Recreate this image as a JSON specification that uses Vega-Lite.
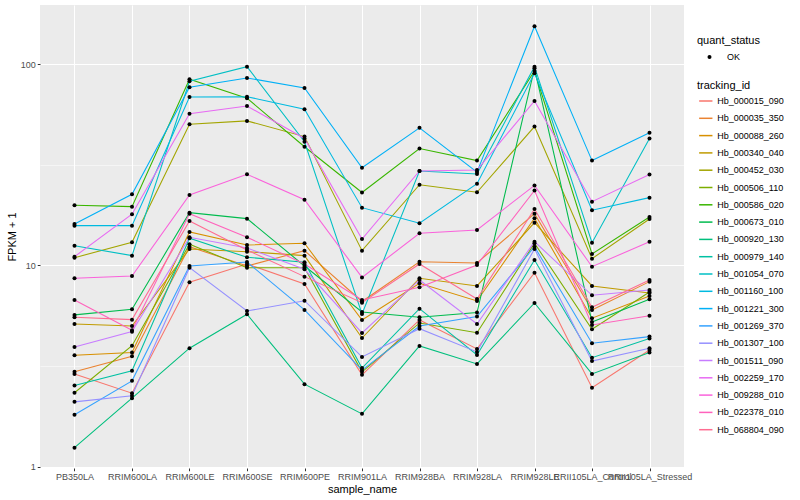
{
"$schema": "https://vega.github.io/schema/vega-lite/v6.json",
"width": 644,
"height": 463,
"autosize": {"type": "none"},
"padding": {"left": 40, "top": 5, "right": 116, "bottom": 32},
"background": "white",
"config": {
  "font": "Liberation Sans",
  "view": {"fill": "#EBEBEB", "stroke": null},
  "axis": {"domain": false, "gridColor": "white", "tickColor": "#333333", "tickSize": 2.75, "tickWidth": 1, "labelColor": "#4D4D4D", "labelFontSize": 9, "titleFontSize": 11, "titleFontWeight": "normal", "titleColor": "black"},
  "legend": {"labelFontSize": 9, "labelColor": "black", "titleFontSize": 11, "titleFontWeight": "normal", "titleColor": "black", "padding": 0}
},
"data": {"values": [
{"sample_name":"PB350LA","tracking_id":"Hb_000015_090","quant_status":"OK","fpkm":2.89},
{"sample_name":"RRIM600LA","tracking_id":"Hb_000015_090","quant_status":"OK","fpkm":2.32},
{"sample_name":"RRIM600LE","tracking_id":"Hb_000015_090","quant_status":"OK","fpkm":8.25},
{"sample_name":"RRIM600SE","tracking_id":"Hb_000015_090","quant_status":"OK","fpkm":10.17},
{"sample_name":"RRIM600PE","tracking_id":"Hb_000015_090","quant_status":"OK","fpkm":8.09},
{"sample_name":"RRIM901LA","tracking_id":"Hb_000015_090","quant_status":"OK","fpkm":2.86},
{"sample_name":"RRIM928BA","tracking_id":"Hb_000015_090","quant_status":"OK","fpkm":5.36},
{"sample_name":"RRIM928LA","tracking_id":"Hb_000015_090","quant_status":"OK","fpkm":3.85},
{"sample_name":"RRIM928LE","tracking_id":"Hb_000015_090","quant_status":"OK","fpkm":9.21},
{"sample_name":"RRII105LA_Control","tracking_id":"Hb_000015_090","quant_status":"OK","fpkm":2.47},
{"sample_name":"RRII105LA_Stressed","tracking_id":"Hb_000015_090","quant_status":"OK","fpkm":3.80},
{"sample_name":"PB350LA","tracking_id":"Hb_000035_350","quant_status":"OK","fpkm":2.96},
{"sample_name":"RRIM600LA","tracking_id":"Hb_000035_350","quant_status":"OK","fpkm":3.54},
{"sample_name":"RRIM600LE","tracking_id":"Hb_000035_350","quant_status":"OK","fpkm":12.40},
{"sample_name":"RRIM600SE","tracking_id":"Hb_000035_350","quant_status":"OK","fpkm":9.94},
{"sample_name":"RRIM600PE","tracking_id":"Hb_000035_350","quant_status":"OK","fpkm":11.85},
{"sample_name":"RRIM901LA","tracking_id":"Hb_000035_350","quant_status":"OK","fpkm":6.62},
{"sample_name":"RRIM928BA","tracking_id":"Hb_000035_350","quant_status":"OK","fpkm":10.44},
{"sample_name":"RRIM928LA","tracking_id":"Hb_000035_350","quant_status":"OK","fpkm":10.29},
{"sample_name":"RRIM928LE","tracking_id":"Hb_000035_350","quant_status":"OK","fpkm":18.09},
{"sample_name":"RRII105LA_Control","tracking_id":"Hb_000035_350","quant_status":"OK","fpkm":6.01},
{"sample_name":"RRII105LA_Stressed","tracking_id":"Hb_000035_350","quant_status":"OK","fpkm":8.31},
{"sample_name":"PB350LA","tracking_id":"Hb_000088_260","quant_status":"OK","fpkm":3.58},
{"sample_name":"RRIM600LA","tracking_id":"Hb_000088_260","quant_status":"OK","fpkm":3.69},
{"sample_name":"RRIM600LE","tracking_id":"Hb_000088_260","quant_status":"OK","fpkm":14.67},
{"sample_name":"RRIM600SE","tracking_id":"Hb_000088_260","quant_status":"OK","fpkm":12.65},
{"sample_name":"RRIM600PE","tracking_id":"Hb_000088_260","quant_status":"OK","fpkm":12.89},
{"sample_name":"RRIM901LA","tracking_id":"Hb_000088_260","quant_status":"OK","fpkm":5.36},
{"sample_name":"RRIM928BA","tracking_id":"Hb_000088_260","quant_status":"OK","fpkm":8.16},
{"sample_name":"RRIM928LA","tracking_id":"Hb_000088_260","quant_status":"OK","fpkm":6.66},
{"sample_name":"RRIM928LE","tracking_id":"Hb_000088_260","quant_status":"OK","fpkm":17.16},
{"sample_name":"RRII105LA_Control","tracking_id":"Hb_000088_260","quant_status":"OK","fpkm":5.47},
{"sample_name":"RRII105LA_Stressed","tracking_id":"Hb_000088_260","quant_status":"OK","fpkm":7.05},
{"sample_name":"PB350LA","tracking_id":"Hb_000340_040","quant_status":"OK","fpkm":5.12},
{"sample_name":"RRIM600LA","tracking_id":"Hb_000340_040","quant_status":"OK","fpkm":5.00},
{"sample_name":"RRIM600LE","tracking_id":"Hb_000340_040","quant_status":"OK","fpkm":12.08},
{"sample_name":"RRIM600SE","tracking_id":"Hb_000340_040","quant_status":"OK","fpkm":11.71},
{"sample_name":"RRIM600PE","tracking_id":"Hb_000340_040","quant_status":"OK","fpkm":11.19},
{"sample_name":"RRIM901LA","tracking_id":"Hb_000340_040","quant_status":"OK","fpkm":4.36},
{"sample_name":"RRIM928BA","tracking_id":"Hb_000340_040","quant_status":"OK","fpkm":8.64},
{"sample_name":"RRIM928LA","tracking_id":"Hb_000340_040","quant_status":"OK","fpkm":7.91},
{"sample_name":"RRIM928LE","tracking_id":"Hb_000340_040","quant_status":"OK","fpkm":16.32},
{"sample_name":"RRII105LA_Control","tracking_id":"Hb_000340_040","quant_status":"OK","fpkm":7.91},
{"sample_name":"RRII105LA_Stressed","tracking_id":"Hb_000340_040","quant_status":"OK","fpkm":7.30},
{"sample_name":"PB350LA","tracking_id":"Hb_000452_030","quant_status":"OK","fpkm":10.93},
{"sample_name":"RRIM600LA","tracking_id":"Hb_000452_030","quant_status":"OK","fpkm":13.04},
{"sample_name":"RRIM600LE","tracking_id":"Hb_000452_030","quant_status":"OK","fpkm":50.3},
{"sample_name":"RRIM600SE","tracking_id":"Hb_000452_030","quant_status":"OK","fpkm":52.3},
{"sample_name":"RRIM600PE","tracking_id":"Hb_000452_030","quant_status":"OK","fpkm":43.7},
{"sample_name":"RRIM901LA","tracking_id":"Hb_000452_030","quant_status":"OK","fpkm":11.85},
{"sample_name":"RRIM928BA","tracking_id":"Hb_000452_030","quant_status":"OK","fpkm":25.2},
{"sample_name":"RRIM928LA","tracking_id":"Hb_000452_030","quant_status":"OK","fpkm":23.1},
{"sample_name":"RRIM928LE","tracking_id":"Hb_000452_030","quant_status":"OK","fpkm":49.0},
{"sample_name":"RRII105LA_Control","tracking_id":"Hb_000452_030","quant_status":"OK","fpkm":10.81},
{"sample_name":"RRII105LA_Stressed","tracking_id":"Hb_000452_030","quant_status":"OK","fpkm":17.02},
{"sample_name":"PB350LA","tracking_id":"Hb_000506_110","quant_status":"OK","fpkm":2.33},
{"sample_name":"RRIM600LA","tracking_id":"Hb_000506_110","quant_status":"OK","fpkm":3.99},
{"sample_name":"RRIM600LE","tracking_id":"Hb_000506_110","quant_status":"OK","fpkm":12.75},
{"sample_name":"RRIM600SE","tracking_id":"Hb_000506_110","quant_status":"OK","fpkm":9.75},
{"sample_name":"RRIM600PE","tracking_id":"Hb_000506_110","quant_status":"OK","fpkm":9.75},
{"sample_name":"RRIM901LA","tracking_id":"Hb_000506_110","quant_status":"OK","fpkm":2.96},
{"sample_name":"RRIM928BA","tracking_id":"Hb_000506_110","quant_status":"OK","fpkm":5.18},
{"sample_name":"RRIM928LA","tracking_id":"Hb_000506_110","quant_status":"OK","fpkm":4.63},
{"sample_name":"RRIM928LE","tracking_id":"Hb_000506_110","quant_status":"OK","fpkm":12.89},
{"sample_name":"RRII105LA_Control","tracking_id":"Hb_000506_110","quant_status":"OK","fpkm":4.82},
{"sample_name":"RRII105LA_Stressed","tracking_id":"Hb_000506_110","quant_status":"OK","fpkm":7.38},
{"sample_name":"PB350LA","tracking_id":"Hb_000586_020","quant_status":"OK","fpkm":19.92},
{"sample_name":"RRIM600LA","tracking_id":"Hb_000586_020","quant_status":"OK","fpkm":19.60},
{"sample_name":"RRIM600LE","tracking_id":"Hb_000586_020","quant_status":"OK","fpkm":84.2},
{"sample_name":"RRIM600SE","tracking_id":"Hb_000586_020","quant_status":"OK","fpkm":67.8},
{"sample_name":"RRIM600PE","tracking_id":"Hb_000586_020","quant_status":"OK","fpkm":38.9},
{"sample_name":"RRIM901LA","tracking_id":"Hb_000586_020","quant_status":"OK","fpkm":23.06},
{"sample_name":"RRIM928BA","tracking_id":"Hb_000586_020","quant_status":"OK","fpkm":38.1},
{"sample_name":"RRIM928LA","tracking_id":"Hb_000586_020","quant_status":"OK","fpkm":33.2},
{"sample_name":"RRIM928LE","tracking_id":"Hb_000586_020","quant_status":"OK","fpkm":92.6},
{"sample_name":"RRII105LA_Control","tracking_id":"Hb_000586_020","quant_status":"OK","fpkm":11.41},
{"sample_name":"RRII105LA_Stressed","tracking_id":"Hb_000586_020","quant_status":"OK","fpkm":17.42},
{"sample_name":"PB350LA","tracking_id":"Hb_000673_010","quant_status":"OK","fpkm":5.68},
{"sample_name":"RRIM600LA","tracking_id":"Hb_000673_010","quant_status":"OK","fpkm":6.06},
{"sample_name":"RRIM600LE","tracking_id":"Hb_000673_010","quant_status":"OK","fpkm":18.30},
{"sample_name":"RRIM600SE","tracking_id":"Hb_000673_010","quant_status":"OK","fpkm":17.09},
{"sample_name":"RRIM600PE","tracking_id":"Hb_000673_010","quant_status":"OK","fpkm":9.94},
{"sample_name":"RRIM901LA","tracking_id":"Hb_000673_010","quant_status":"OK","fpkm":5.87},
{"sample_name":"RRIM928BA","tracking_id":"Hb_000673_010","quant_status":"OK","fpkm":5.53},
{"sample_name":"RRIM928LA","tracking_id":"Hb_000673_010","quant_status":"OK","fpkm":5.83},
{"sample_name":"RRIM928LE","tracking_id":"Hb_000673_010","quant_status":"OK","fpkm":95.5},
{"sample_name":"RRII105LA_Control","tracking_id":"Hb_000673_010","quant_status":"OK","fpkm":5.24},
{"sample_name":"RRII105LA_Stressed","tracking_id":"Hb_000673_010","quant_status":"OK","fpkm":6.79},
{"sample_name":"PB350LA","tracking_id":"Hb_000920_130","quant_status":"OK","fpkm":1.243},
{"sample_name":"RRIM600LA","tracking_id":"Hb_000920_130","quant_status":"OK","fpkm":2.19},
{"sample_name":"RRIM600LE","tracking_id":"Hb_000920_130","quant_status":"OK","fpkm":3.88},
{"sample_name":"RRIM600SE","tracking_id":"Hb_000920_130","quant_status":"OK","fpkm":5.72},
{"sample_name":"RRIM600PE","tracking_id":"Hb_000920_130","quant_status":"OK","fpkm":2.57},
{"sample_name":"RRIM901LA","tracking_id":"Hb_000920_130","quant_status":"OK","fpkm":1.83},
{"sample_name":"RRIM928BA","tracking_id":"Hb_000920_130","quant_status":"OK","fpkm":3.98},
{"sample_name":"RRIM928LA","tracking_id":"Hb_000920_130","quant_status":"OK","fpkm":3.24},
{"sample_name":"RRIM928LE","tracking_id":"Hb_000920_130","quant_status":"OK","fpkm":6.51},
{"sample_name":"RRII105LA_Control","tracking_id":"Hb_000920_130","quant_status":"OK","fpkm":2.89},
{"sample_name":"RRII105LA_Stressed","tracking_id":"Hb_000920_130","quant_status":"OK","fpkm":3.69},
{"sample_name":"PB350LA","tracking_id":"Hb_000979_140","quant_status":"OK","fpkm":2.53},
{"sample_name":"RRIM600LA","tracking_id":"Hb_000979_140","quant_status":"OK","fpkm":3.00},
{"sample_name":"RRIM600LE","tracking_id":"Hb_000979_140","quant_status":"OK","fpkm":13.65},
{"sample_name":"RRIM600SE","tracking_id":"Hb_000979_140","quant_status":"OK","fpkm":10.98},
{"sample_name":"RRIM600PE","tracking_id":"Hb_000979_140","quant_status":"OK","fpkm":10.37},
{"sample_name":"RRIM901LA","tracking_id":"Hb_000979_140","quant_status":"OK","fpkm":3.09},
{"sample_name":"RRIM928BA","tracking_id":"Hb_000979_140","quant_status":"OK","fpkm":6.10},
{"sample_name":"RRIM928LA","tracking_id":"Hb_000979_140","quant_status":"OK","fpkm":3.59},
{"sample_name":"RRIM928LE","tracking_id":"Hb_000979_140","quant_status":"OK","fpkm":10.65},
{"sample_name":"RRII105LA_Control","tracking_id":"Hb_000979_140","quant_status":"OK","fpkm":3.48},
{"sample_name":"RRII105LA_Stressed","tracking_id":"Hb_000979_140","quant_status":"OK","fpkm":4.33},
{"sample_name":"PB350LA","tracking_id":"Hb_001054_070","quant_status":"OK","fpkm":12.54},
{"sample_name":"RRIM600LA","tracking_id":"Hb_001054_070","quant_status":"OK","fpkm":11.19},
{"sample_name":"RRIM600LE","tracking_id":"Hb_001054_070","quant_status":"OK","fpkm":82.3},
{"sample_name":"RRIM600SE","tracking_id":"Hb_001054_070","quant_status":"OK","fpkm":97.3},
{"sample_name":"RRIM600PE","tracking_id":"Hb_001054_070","quant_status":"OK","fpkm":41.2},
{"sample_name":"RRIM901LA","tracking_id":"Hb_001054_070","quant_status":"OK","fpkm":5.74},
{"sample_name":"RRIM928BA","tracking_id":"Hb_001054_070","quant_status":"OK","fpkm":29.5},
{"sample_name":"RRIM928LA","tracking_id":"Hb_001054_070","quant_status":"OK","fpkm":28.5},
{"sample_name":"RRIM928LE","tracking_id":"Hb_001054_070","quant_status":"OK","fpkm":97.3},
{"sample_name":"RRII105LA_Control","tracking_id":"Hb_001054_070","quant_status":"OK","fpkm":12.98},
{"sample_name":"RRII105LA_Stressed","tracking_id":"Hb_001054_070","quant_status":"OK","fpkm":42.7},
{"sample_name":"PB350LA","tracking_id":"Hb_001160_100","quant_status":"OK","fpkm":15.77},
{"sample_name":"RRIM600LA","tracking_id":"Hb_001160_100","quant_status":"OK","fpkm":15.77},
{"sample_name":"RRIM600LE","tracking_id":"Hb_001160_100","quant_status":"OK","fpkm":68.8},
{"sample_name":"RRIM600SE","tracking_id":"Hb_001160_100","quant_status":"OK","fpkm":69.0},
{"sample_name":"RRIM600PE","tracking_id":"Hb_001160_100","quant_status":"OK","fpkm":59.8},
{"sample_name":"RRIM901LA","tracking_id":"Hb_001160_100","quant_status":"OK","fpkm":19.38},
{"sample_name":"RRIM928BA","tracking_id":"Hb_001160_100","quant_status":"OK","fpkm":16.21},
{"sample_name":"RRIM928LA","tracking_id":"Hb_001160_100","quant_status":"OK","fpkm":25.5},
{"sample_name":"RRIM928LE","tracking_id":"Hb_001160_100","quant_status":"OK","fpkm":90.2},
{"sample_name":"RRII105LA_Control","tracking_id":"Hb_001160_100","quant_status":"OK","fpkm":18.81},
{"sample_name":"RRII105LA_Stressed","tracking_id":"Hb_001160_100","quant_status":"OK","fpkm":21.73},
{"sample_name":"PB350LA","tracking_id":"Hb_001221_300","quant_status":"OK","fpkm":16.08},
{"sample_name":"RRIM600LA","tracking_id":"Hb_001221_300","quant_status":"OK","fpkm":22.59},
{"sample_name":"RRIM600LE","tracking_id":"Hb_001221_300","quant_status":"OK","fpkm":76.9},
{"sample_name":"RRIM600SE","tracking_id":"Hb_001221_300","quant_status":"OK","fpkm":85.5},
{"sample_name":"RRIM600PE","tracking_id":"Hb_001221_300","quant_status":"OK","fpkm":76.2},
{"sample_name":"RRIM901LA","tracking_id":"Hb_001221_300","quant_status":"OK","fpkm":30.6},
{"sample_name":"RRIM928BA","tracking_id":"Hb_001221_300","quant_status":"OK","fpkm":48.3},
{"sample_name":"RRIM928LA","tracking_id":"Hb_001221_300","quant_status":"OK","fpkm":29.1},
{"sample_name":"RRIM928LE","tracking_id":"Hb_001221_300","quant_status":"OK","fpkm":154.5},
{"sample_name":"RRII105LA_Control","tracking_id":"Hb_001221_300","quant_status":"OK","fpkm":33.2},
{"sample_name":"RRII105LA_Stressed","tracking_id":"Hb_001221_300","quant_status":"OK","fpkm":45.7},
{"sample_name":"PB350LA","tracking_id":"Hb_001269_370","quant_status":"OK","fpkm":1.81},
{"sample_name":"RRIM600LA","tracking_id":"Hb_001269_370","quant_status":"OK","fpkm":2.67},
{"sample_name":"RRIM600LE","tracking_id":"Hb_001269_370","quant_status":"OK","fpkm":9.94},
{"sample_name":"RRIM600SE","tracking_id":"Hb_001269_370","quant_status":"OK","fpkm":10.40},
{"sample_name":"RRIM600PE","tracking_id":"Hb_001269_370","quant_status":"OK","fpkm":6.01},
{"sample_name":"RRIM901LA","tracking_id":"Hb_001269_370","quant_status":"OK","fpkm":3.02},
{"sample_name":"RRIM928BA","tracking_id":"Hb_001269_370","quant_status":"OK","fpkm":5.00},
{"sample_name":"RRIM928LA","tracking_id":"Hb_001269_370","quant_status":"OK","fpkm":5.57},
{"sample_name":"RRIM928LE","tracking_id":"Hb_001269_370","quant_status":"OK","fpkm":12.40},
{"sample_name":"RRII105LA_Control","tracking_id":"Hb_001269_370","quant_status":"OK","fpkm":4.11},
{"sample_name":"RRII105LA_Stressed","tracking_id":"Hb_001269_370","quant_status":"OK","fpkm":4.43},
{"sample_name":"PB350LA","tracking_id":"Hb_001307_100","quant_status":"OK","fpkm":2.10},
{"sample_name":"RRIM600LA","tracking_id":"Hb_001307_100","quant_status":"OK","fpkm":2.25},
{"sample_name":"RRIM600LE","tracking_id":"Hb_001307_100","quant_status":"OK","fpkm":9.75},
{"sample_name":"RRIM600SE","tracking_id":"Hb_001307_100","quant_status":"OK","fpkm":5.94},
{"sample_name":"RRIM600PE","tracking_id":"Hb_001307_100","quant_status":"OK","fpkm":6.68},
{"sample_name":"RRIM901LA","tracking_id":"Hb_001307_100","quant_status":"OK","fpkm":3.51},
{"sample_name":"RRIM928BA","tracking_id":"Hb_001307_100","quant_status":"OK","fpkm":4.85},
{"sample_name":"RRIM928LA","tracking_id":"Hb_001307_100","quant_status":"OK","fpkm":3.72},
{"sample_name":"RRIM928LE","tracking_id":"Hb_001307_100","quant_status":"OK","fpkm":12.08},
{"sample_name":"RRII105LA_Control","tracking_id":"Hb_001307_100","quant_status":"OK","fpkm":3.35},
{"sample_name":"RRII105LA_Stressed","tracking_id":"Hb_001307_100","quant_status":"OK","fpkm":3.88},
{"sample_name":"PB350LA","tracking_id":"Hb_001511_090","quant_status":"OK","fpkm":3.93},
{"sample_name":"RRIM600LA","tracking_id":"Hb_001511_090","quant_status":"OK","fpkm":4.69},
{"sample_name":"RRIM600LE","tracking_id":"Hb_001511_090","quant_status":"OK","fpkm":13.81},
{"sample_name":"RRIM600SE","tracking_id":"Hb_001511_090","quant_status":"OK","fpkm":12.22},
{"sample_name":"RRIM600PE","tracking_id":"Hb_001511_090","quant_status":"OK","fpkm":9.57},
{"sample_name":"RRIM901LA","tracking_id":"Hb_001511_090","quant_status":"OK","fpkm":4.62},
{"sample_name":"RRIM928BA","tracking_id":"Hb_001511_090","quant_status":"OK","fpkm":8.47},
{"sample_name":"RRIM928LA","tracking_id":"Hb_001511_090","quant_status":"OK","fpkm":5.12},
{"sample_name":"RRIM928LE","tracking_id":"Hb_001511_090","quant_status":"OK","fpkm":13.13},
{"sample_name":"RRII105LA_Control","tracking_id":"Hb_001511_090","quant_status":"OK","fpkm":7.11},
{"sample_name":"RRII105LA_Stressed","tracking_id":"Hb_001511_090","quant_status":"OK","fpkm":7.55},
{"sample_name":"PB350LA","tracking_id":"Hb_002259_170","quant_status":"OK","fpkm":11.06},
{"sample_name":"RRIM600LA","tracking_id":"Hb_002259_170","quant_status":"OK","fpkm":17.97},
{"sample_name":"RRIM600LE","tracking_id":"Hb_002259_170","quant_status":"OK","fpkm":56.8},
{"sample_name":"RRIM600SE","tracking_id":"Hb_002259_170","quant_status":"OK","fpkm":62.0},
{"sample_name":"RRIM600PE","tracking_id":"Hb_002259_170","quant_status":"OK","fpkm":42.8},
{"sample_name":"RRIM901LA","tracking_id":"Hb_002259_170","quant_status":"OK","fpkm":13.54},
{"sample_name":"RRIM928BA","tracking_id":"Hb_002259_170","quant_status":"OK","fpkm":29.5},
{"sample_name":"RRIM928LA","tracking_id":"Hb_002259_170","quant_status":"OK","fpkm":29.8},
{"sample_name":"RRIM928LE","tracking_id":"Hb_002259_170","quant_status":"OK","fpkm":65.7},
{"sample_name":"RRII105LA_Control","tracking_id":"Hb_002259_170","quant_status":"OK","fpkm":20.75},
{"sample_name":"RRII105LA_Stressed","tracking_id":"Hb_002259_170","quant_status":"OK","fpkm":28.3},
{"sample_name":"PB350LA","tracking_id":"Hb_009288_010","quant_status":"OK","fpkm":8.64},
{"sample_name":"RRIM600LA","tracking_id":"Hb_009288_010","quant_status":"OK","fpkm":8.87},
{"sample_name":"RRIM600LE","tracking_id":"Hb_009288_010","quant_status":"OK","fpkm":22.4},
{"sample_name":"RRIM600SE","tracking_id":"Hb_009288_010","quant_status":"OK","fpkm":28.4},
{"sample_name":"RRIM600PE","tracking_id":"Hb_009288_010","quant_status":"OK","fpkm":21.2},
{"sample_name":"RRIM901LA","tracking_id":"Hb_009288_010","quant_status":"OK","fpkm":8.72},
{"sample_name":"RRIM928BA","tracking_id":"Hb_009288_010","quant_status":"OK","fpkm":14.45},
{"sample_name":"RRIM928LA","tracking_id":"Hb_009288_010","quant_status":"OK","fpkm":15.01},
{"sample_name":"RRIM928LE","tracking_id":"Hb_009288_010","quant_status":"OK","fpkm":25.0},
{"sample_name":"RRII105LA_Control","tracking_id":"Hb_009288_010","quant_status":"OK","fpkm":9.86},
{"sample_name":"RRII105LA_Stressed","tracking_id":"Hb_009288_010","quant_status":"OK","fpkm":13.13},
{"sample_name":"PB350LA","tracking_id":"Hb_022378_010","quant_status":"OK","fpkm":6.74},
{"sample_name":"RRIM600LA","tracking_id":"Hb_022378_010","quant_status":"OK","fpkm":4.76},
{"sample_name":"RRIM600LE","tracking_id":"Hb_022378_010","quant_status":"OK","fpkm":18.09},
{"sample_name":"RRIM600SE","tracking_id":"Hb_022378_010","quant_status":"OK","fpkm":13.81},
{"sample_name":"RRIM600PE","tracking_id":"Hb_022378_010","quant_status":"OK","fpkm":10.17},
{"sample_name":"RRIM901LA","tracking_id":"Hb_022378_010","quant_status":"OK","fpkm":6.74},
{"sample_name":"RRIM928BA","tracking_id":"Hb_022378_010","quant_status":"OK","fpkm":7.79},
{"sample_name":"RRIM928LA","tracking_id":"Hb_022378_010","quant_status":"OK","fpkm":10.06},
{"sample_name":"RRIM928LE","tracking_id":"Hb_022378_010","quant_status":"OK","fpkm":23.6},
{"sample_name":"RRII105LA_Control","tracking_id":"Hb_022378_010","quant_status":"OK","fpkm":5.06},
{"sample_name":"RRII105LA_Stressed","tracking_id":"Hb_022378_010","quant_status":"OK","fpkm":5.63},
{"sample_name":"PB350LA","tracking_id":"Hb_068804_090","quant_status":"OK","fpkm":5.53},
{"sample_name":"RRIM600LA","tracking_id":"Hb_068804_090","quant_status":"OK","fpkm":5.38},
{"sample_name":"RRIM600LE","tracking_id":"Hb_068804_090","quant_status":"OK","fpkm":16.64},
{"sample_name":"RRIM600SE","tracking_id":"Hb_068804_090","quant_status":"OK","fpkm":11.94},
{"sample_name":"RRIM600PE","tracking_id":"Hb_068804_090","quant_status":"OK","fpkm":8.80},
{"sample_name":"RRIM901LA","tracking_id":"Hb_068804_090","quant_status":"OK","fpkm":6.53},
{"sample_name":"RRIM928BA","tracking_id":"Hb_068804_090","quant_status":"OK","fpkm":10.17},
{"sample_name":"RRIM928LA","tracking_id":"Hb_068804_090","quant_status":"OK","fpkm":6.81},
{"sample_name":"RRIM928LE","tracking_id":"Hb_068804_090","quant_status":"OK","fpkm":19.09},
{"sample_name":"RRII105LA_Control","tracking_id":"Hb_068804_090","quant_status":"OK","fpkm":6.20},
{"sample_name":"RRII105LA_Stressed","tracking_id":"Hb_068804_090","quant_status":"OK","fpkm":8.47}
]},
"encoding": {
  "x": {"field": "sample_name", "type": "nominal", "title": "sample_name",
        "scale": {"type": "point", "padding": 0.6, "domain": ["PB350LA","RRIM600LA","RRIM600LE","RRIM600SE","RRIM600PE","RRIM901LA","RRIM928BA","RRIM928LA","RRIM928LE","RRII105LA_Control","RRII105LA_Stressed"]},
        "axis": {"labelAngle": 0, "labelOverlap": false, "labelPadding": 1.5, "titlePadding": 2, "grid": true, "gridWidth": 1.07}},
  "y": {"field": "fpkm", "type": "quantitative", "title": "FPKM + 1",
        "scale": {"type": "log", "domain": [0.985, 197], "nice": false},
        "axis": {"values": [1, 3.1623, 10, 31.623, 100],
                 "labelExpr": "datum.value == 1 || datum.value == 10 || datum.value == 100 ? datum.value + '' : ''",
                 "gridWidth": {"condition": {"test": "datum.value == 1 || datum.value == 10 || datum.value == 100", "value": 1.07}, "value": 0.53},
                 "tickOpacity": {"condition": {"test": "datum.value == 1 || datum.value == 10 || datum.value == 100", "value": 1}, "value": 0},
                 "labelPadding": 2, "titlePadding": 2.5, "grid": true}}
},
"layer": [
  {"mark": {"type": "line", "strokeWidth": 1.07},
   "encoding": {
     "color": {"field": "tracking_id", "type": "nominal", "title": "tracking_id",
               "scale": {"range": ["#F8766D","#EA8331","#D89000","#C09B00","#A3A500","#7CAE00","#39B600","#00BB4E","#00BF7D","#00C1A3","#00BFC4","#00BAE0","#00B0F6","#35A2FF","#9590FF","#C77CFF","#E76BF3","#FA62DB","#FF62BC","#FF6C91"]},
               "legend": {"orient": "none", "legendX": 657, "legendY": 74.5, "symbolType": "stroke", "symbolSize": 177, "symbolStrokeWidth": 1.5, "symbolOffset": 1.3, "labelOffset": 4, "rowPadding": 4.3, "titlePadding": 3}},
     "order": {"value": null}
   }},
  {"mark": {"type": "point", "filled": true, "size": 16, "opacity": 1, "color": "black"},
   "encoding": {
     "shape": {"field": "quant_status", "type": "nominal", "title": "quant_status",
               "scale": {"range": ["circle"]},
               "legend": {"orient": "none", "legendX": 657, "legendY": 29.5, "symbolSize": 16, "symbolFillColor": "black", "symbolStrokeColor": "black", "symbolOffset": 8, "labelOffset": 13, "titlePadding": 7}}
   }}
]
}
